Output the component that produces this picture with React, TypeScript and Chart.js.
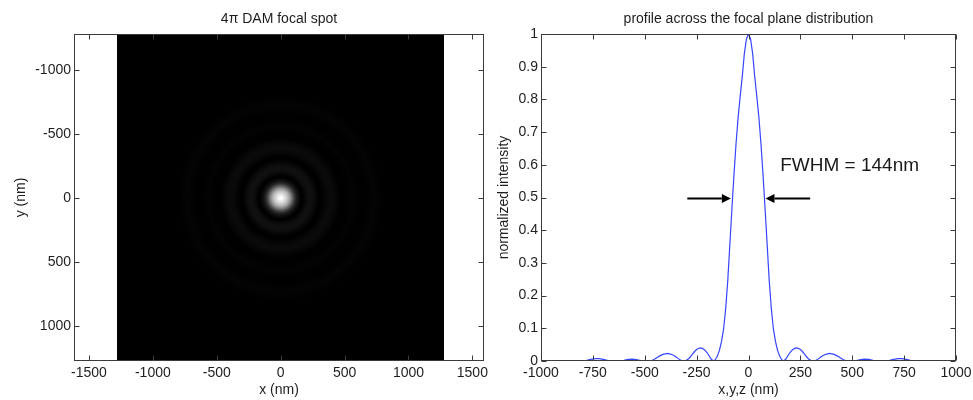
import React, { useEffect, useRef } from "react";
import { Chart, registerables } from "chart.js";

Chart.register(...registerables);

const FONT = "'Liberation Sans', Arial, Helvetica, sans-serif";
const TEXT_COLOR = "#1e1e1e";
const BOX_COLOR = "#3a3a3a";

// ---------- data: profile across the focal plane (nm, normalized intensity) ----------
const profileX = [
  -1000, -950, -900, -850, -800, -780, -760, -740, -720, -700, -680, -660, -640, -620, -600, -580, -560, -540, -520, -500,
  -480, -470, -460, -450, -440, -430, -420, -410, -400, -390, -380, -370, -360, -350, -340, -330, -320, -310, -300, -290,
  -280, -270, -260, -250, -240, -230, -220, -210, -200, -190, -180, -170, -160, -150, -140, -130, -120, -110, -100, -90,
  -80, -70, -60, -50, -40, -30, -20, -10,
  0,
  10, 20, 30, 40, 50, 60, 70, 80, 90, 100, 110, 120, 130, 140, 150, 160, 170, 180, 190, 200,
  210, 220, 230, 240, 250, 260, 270, 280, 290, 300, 310, 320, 330, 340, 350, 360, 370, 380, 390, 400,
  410, 420, 430, 440, 450, 460, 470, 480, 500, 520, 540, 560, 580, 600, 620, 640, 660, 680, 700, 720,
  740, 760, 780, 800, 850, 900, 950, 1000,
];
const profileY = [
  0, 0, 0, 0, 0, 0.002, 0.005, 0.007, 0.007, 0.005, 0.002, 0, 0, 0, 0.002, 0.005, 0.006, 0.004, 0.001, 0,
  0, 0.001, 0.003, 0.007, 0.011, 0.015, 0.018, 0.021, 0.022, 0.023, 0.022, 0.02, 0.017, 0.013, 0.008, 0.004, 0.001, 0, 0.002, 0.006,
  0.013, 0.021, 0.029, 0.035, 0.039, 0.04, 0.038, 0.033, 0.026, 0.016, 0.006, 0, 0.004, 0.015, 0.033, 0.06, 0.098, 0.16, 0.245, 0.355,
  0.465, 0.57, 0.665, 0.745, 0.81, 0.87, 0.94, 0.985,
  1.0,
  0.985, 0.94, 0.87, 0.81, 0.745, 0.665, 0.57, 0.465, 0.355, 0.245, 0.16, 0.098, 0.06, 0.033, 0.015, 0.004, 0, 0.006, 0.016, 0.026,
  0.033, 0.038, 0.04, 0.039, 0.035, 0.029, 0.021, 0.013, 0.006, 0.002, 0, 0.001, 0.004, 0.008, 0.013, 0.017, 0.02, 0.022, 0.023, 0.022,
  0.021, 0.018, 0.015, 0.011, 0.007, 0.003, 0.001, 0, 0, 0.001, 0.004, 0.006, 0.005, 0.002, 0, 0, 0, 0.002, 0.005, 0.007,
  0.007, 0.005, 0.002, 0, 0, 0, 0, 0,
];

const profileXTicks = [-1000, -750, -500, -250, 0, 250, 500, 750, 1000];
const profileYTicks = [0, 0.1, 0.2, 0.3, 0.4, 0.5, 0.6, 0.7, 0.8, 0.9, 1];

// ---------- focal spot image (left panel) ----------
const spotXTicks = [-1500, -1000, -500, 0, 500, 1000, 1500];
const spotYTicks = [-1000, -500, 0, 500, 1000];
const spotXRange = [-1617, 1591];
const spotYRange = [-1281, 1273];
const imageExtent = [-1277, 1277];
const imageGamma = 0.85;

// ---------- FWHM annotation ----------
const fwhmLevel = 0.5;
const fwhmLeftArrow = [-295, -85]; // [tail, tip]
const fwhmRightArrow = [297, 82]; // [tail, tip]
const fwhmLabel = "FWHM = 144nm";
const fwhmLabelPos = [153, 0.58];

function radialIntensity(r: number): number {
  for (let i = 0; i < profileX.length - 1; i++) {
    const x0 = profileX[i];
    const x1 = profileX[i + 1];
    if (x0 >= 0 && r >= x0 && r <= x1) {
      const t = (r - x0) / (x1 - x0);
      return profileY[i] + t * (profileY[i + 1] - profileY[i]);
    }
  }
  return 0;
}

const boxPlugin = {
  id: "matlabBox",
  afterDraw(chart: any, _args: any, opts: any) {
    const { ctx, chartArea: ca, scales } = chart;
    ctx.save();
    if (opts && opts.title) {
      ctx.fillStyle = TEXT_COLOR;
      ctx.font = `14px ${FONT}`;
      ctx.textAlign = "center";
      ctx.textBaseline = "middle";
      ctx.fillText(opts.title, (ca.left + ca.right) / 2, 19);
    }
    ctx.strokeStyle = BOX_COLOR;
    ctx.lineWidth = 1;
    const L = Math.round(ca.left) + 0.5;
    const R = Math.round(ca.right) - 0.5;
    const T = Math.round(ca.top) + 0.5;
    const B = Math.round(ca.bottom) - 0.5;
    ctx.strokeRect(L, T, R - L, B - T);
    const tl = 5;
    ctx.beginPath();
    const xs = scales.x;
    xs.ticks.forEach((t: any) => {
      const px = Math.round(xs.getPixelForValue(t.value)) + 0.5;
      ctx.moveTo(px, B);
      ctx.lineTo(px, B - tl);
      ctx.moveTo(px, T);
      ctx.lineTo(px, T + tl);
    });
    const ys = scales.y;
    ys.ticks.forEach((t: any) => {
      const py = Math.round(ys.getPixelForValue(t.value)) + 0.5;
      ctx.moveTo(L, py);
      ctx.lineTo(L + tl, py);
      ctx.moveTo(R, py);
      ctx.lineTo(R - tl, py);
    });
    ctx.stroke();
    ctx.restore();
  },
};

const imagePlugin = {
  id: "spotImage",
  beforeDatasetsDraw(chart: any) {
    const { ctx, chartArea: ca, scales } = chart;
    const N = 420;
    const off = document.createElement("canvas");
    off.width = N;
    off.height = N;
    const octx = off.getContext("2d")!;
    const img = octx.createImageData(N, N);
    const [e0, e1] = imageExtent;
    for (let j = 0; j < N; j++) {
      const yv = e0 + ((j + 0.5) / N) * (e1 - e0);
      for (let i = 0; i < N; i++) {
        const xv = e0 + ((i + 0.5) / N) * (e1 - e0);
        const r = Math.sqrt(xv * xv + yv * yv);
        const v = Math.max(0, radialIntensity(r));
        const g = Math.round(255 * Math.pow(v, imageGamma));
        const k = (j * N + i) * 4;
        img.data[k] = g;
        img.data[k + 1] = g;
        img.data[k + 2] = g;
        img.data[k + 3] = 255;
      }
    }
    octx.putImageData(img, 0, 0);
    const x0 = scales.x.getPixelForValue(e0);
    const x1 = scales.x.getPixelForValue(e1);
    const y0 = scales.y.getPixelForValue(e0);
    const y1 = scales.y.getPixelForValue(e1);
    ctx.save();
    ctx.beginPath();
    ctx.rect(ca.left, ca.top, ca.right - ca.left, ca.bottom - ca.top);
    ctx.clip();
    ctx.imageSmoothingEnabled = true;
    ctx.drawImage(off, Math.min(x0, x1), Math.min(y0, y1), Math.abs(x1 - x0), Math.abs(y1 - y0));
    ctx.restore();
  },
};

const fwhmPlugin = {
  id: "fwhmNote",
  afterDatasetsDraw(chart: any) {
    const { ctx, scales } = chart;
    const xs = scales.x;
    const ys = scales.y;
    const py = Math.round(ys.getPixelForValue(fwhmLevel)) + 0.5;
    const drawArrow = (tail: number, tip: number) => {
      const pTail = xs.getPixelForValue(tail);
      const pTip = xs.getPixelForValue(tip);
      const dir = pTip > pTail ? 1 : -1;
      const head = 9;
      ctx.beginPath();
      ctx.moveTo(pTail, py);
      ctx.lineTo(pTip - dir * head, py);
      ctx.lineWidth = 2;
      ctx.strokeStyle = "#000";
      ctx.stroke();
      ctx.beginPath();
      ctx.moveTo(pTip, py);
      ctx.lineTo(pTip - dir * head, py - 4.5);
      ctx.lineTo(pTip - dir * head, py + 4.5);
      ctx.closePath();
      ctx.fillStyle = "#000";
      ctx.fill();
    };
    ctx.save();
    drawArrow(fwhmLeftArrow[0], fwhmLeftArrow[1]);
    drawArrow(fwhmRightArrow[0], fwhmRightArrow[1]);
    ctx.fillStyle = "#1a1a1a";
    ctx.font = `19px ${FONT}`;
    ctx.textAlign = "left";
    ctx.textBaseline = "alphabetic";
    ctx.fillText(fwhmLabel, xs.getPixelForValue(fwhmLabelPos[0]), ys.getPixelForValue(fwhmLabelPos[1]));
    ctx.restore();
  },
};

const tickFont = { family: FONT, size: 14 };

function axisX(ticksArr: number[], min: number, max: number, title: string) {
  return {
    type: "linear" as const,
    min,
    max,
    grid: { display: false, drawTicks: false },
    border: { display: false },
    ticks: {
      font: tickFont,
      color: TEXT_COLOR,
      padding: 4,
      maxRotation: 0,
      autoSkip: false,
      callback: (v: any) => String(v),
    },
    title: { display: true, text: title, font: tickFont, color: TEXT_COLOR, padding: { top: 0, bottom: 1 } },
    afterBuildTicks: (s: any) => {
      s.ticks = ticksArr.map((v) => ({ value: v }));
    },
    afterFit: (s: any) => {
      s.height = 39;
      s.paddingLeft = 0;
      s.paddingRight = 0;
    },
  };
}

function axisY(ticksArr: number[], min: number, max: number, title: string, width: number, titlePad: number, reverse: boolean) {
  return {
    type: "linear" as const,
    min,
    max,
    reverse,
    grid: { display: false, drawTicks: false },
    border: { display: false },
    ticks: {
      font: tickFont,
      color: TEXT_COLOR,
      padding: 3,
      autoSkip: false,
      callback: (v: any) => String(v),
    },
    title: { display: true, text: title, font: tickFont, color: TEXT_COLOR, padding: { top: titlePad, bottom: 0 } },
    afterBuildTicks: (s: any) => {
      s.ticks = ticksArr.map((v) => ({ value: v }));
    },
    afterFit: (s: any) => {
      s.width = width;
      s.paddingTop = 0;
      s.paddingBottom = 0;
    },
  };
}

function SpotChart() {
  const ref = useRef<HTMLCanvasElement>(null);
  useEffect(() => {
    const chart = new Chart(ref.current!, {
      type: "scatter",
      data: { datasets: [] },
      options: {
        responsive: false,
        animation: false,
        devicePixelRatio: 1,
        layout: { padding: { left: 0, right: 6, top: 34, bottom: 0 } },
        plugins: {
          legend: { display: false },
          tooltip: { enabled: false },
          matlabBox: { title: "4\u03c0 DAM focal spot" },
        } as any,
        scales: {
          x: axisX(spotXTicks, spotXRange[0], spotXRange[1], "x (nm)"),
          y: axisY(spotYTicks, spotYRange[0], spotYRange[1], "y (nm)", 74, 13, true),
        } as any,
      },
      plugins: [imagePlugin, boxPlugin],
    });
    return () => chart.destroy();
  }, []);
  return <canvas ref={ref} width={490} height={400} style={{ position: "absolute", left: 0, top: 0, width: 490, height: 400 }} />;
}

function ProfileChart() {
  const ref = useRef<HTMLCanvasElement>(null);
  useEffect(() => {
    const chart = new Chart(ref.current!, {
      type: "line",
      data: {
        datasets: [
          {
            data: profileX.map((x, i) => ({ x, y: profileY[i] })),
            borderColor: "rgb(55,70,255)",
            borderWidth: 1.2,
            pointRadius: 0,
            tension: 0,
            fill: false,
          },
        ],
      },
      options: {
        responsive: false,
        animation: false,
        devicePixelRatio: 1,
        parsing: false,
        layout: { padding: { left: 0, right: 17, top: 34, bottom: 0 } },
        plugins: {
          legend: { display: false },
          tooltip: { enabled: false },
          matlabBox: { title: "profile across the focal plane distribution" },
        } as any,
        scales: {
          x: axisX(profileXTicks, -1000, 1000, "x,y,z (nm)"),
          y: axisY(profileYTicks, 0, 1, "normalized intensity", 51, 6, false),
        } as any,
      },
      plugins: [fwhmPlugin, boxPlugin],
    });
    return () => chart.destroy();
  }, []);
  return <canvas ref={ref} width={483} height={400} style={{ position: "absolute", left: 490, top: 0, width: 483, height: 400 }} />;
}

export default function App() {
  return (
    <div style={{ position: "fixed", left: 0, top: 0, width: 973, height: 400, background: "#fff", overflow: "hidden" }}>
      <SpotChart />
      <ProfileChart />
    </div>
  );
}
